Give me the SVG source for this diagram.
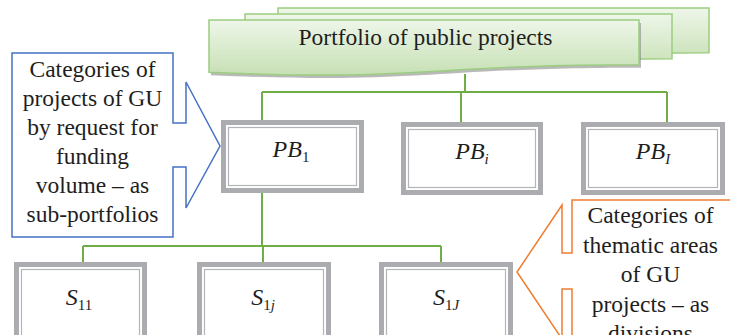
<svg xmlns="http://www.w3.org/2000/svg" width="730" height="335" viewBox="0 0 730 335">
<defs>
<linearGradient id="g" x1="0" y1="0" x2="0" y2="1">
<stop offset="0" stop-color="#eef6e9"/>
<stop offset="1" stop-color="#c6e0b4"/>
</linearGradient>
<style>
.sheet{fill:url(#g);stroke:#9ccd80;stroke-width:1.5}
.shadow{fill:#7f7f7f;opacity:0.55}
.bo{fill:#fff;stroke:#abacaf;stroke-width:5}
.bi{fill:none;stroke:#b3b4b7;stroke-width:1.2}
.conn{fill:none;stroke:#70ad47;stroke-width:2}
.t{font-family:'Liberation Serif',Tinos,'Times New Roman','DejaVu Serif',serif;fill:#1e1e1e;font-size:23.5px;text-anchor:middle}
.m{font-family:'Liberation Serif',Tinos,'Times New Roman','DejaVu Serif',serif;fill:#1e1e1e;font-size:24px;font-style:italic;text-anchor:middle}
.sub{font-size:15px}
.up{font-style:normal}
</style>
</defs>
<rect width="730" height="335" fill="#fff"/>

<g id="portfolio">
<path class="sheet" d="M278,8 H709 V52.7 C493.5,52.7 493.5,69.7 278,60.2 Z"/>
<path class="sheet" d="M245,14 H672 V58.7 C458.5,58.7 458.5,75.7 245,66.2 Z"/>
<path class="shadow" d="M211,23 H641 V67.7 C426,67.7 426,84.7 211,75.2 Z"/>
<path class="sheet" d="M209,20 H639 V64.7 C424,64.7 424,81.7 209,72.2 Z"/>
<text class="t" x="425.5" y="45">Portfolio of public projects</text>
</g>

<g id="connectors">
<path class="conn" d="M465,74 V92 M262,92 H667 M262,92 V120 M461,92 V122 M667,92 V122"/>
<path class="conn" d="M262,193 V246 M83,246 H441 M83,246 V262 M263,246 V262 M441,246 V262"/>
</g>

<g id="PB1">
<rect class="bo" x="223.5" y="122.5" width="138" height="68"/>
<rect class="bi" x="228.5" y="127.5" width="128" height="58"/>
<text class="m" x="291" y="157">PB<tspan class="sub up" dy="5">1</tspan></text>
</g>
<g id="PBi">
<rect class="bo" x="403.5" y="124.5" width="137" height="68"/>
<rect class="bi" x="408.5" y="129.5" width="127" height="58"/>
<text class="m" x="472" y="159">PB<tspan class="sub" dy="5">i</tspan></text>
</g>
<g id="PBI">
<rect class="bo" x="583.5" y="124.5" width="139" height="68"/>
<rect class="bi" x="588.5" y="129.5" width="129" height="58"/>
<text class="m" x="653" y="159">PB<tspan class="sub" dy="5">I</tspan></text>
</g>

<g id="S11">
<rect class="bo" x="16.5" y="264.5" width="128" height="80"/>
<rect class="bi" x="21.5" y="269.5" width="118" height="70"/>
<text class="m" x="79" y="305">S<tspan class="sub up" dy="5">11</tspan></text>
</g>
<g id="S1j">
<rect class="bo" x="199.5" y="264.5" width="129" height="80"/>
<rect class="bi" x="204.5" y="269.5" width="119" height="70"/>
<text class="m" x="263" y="305">S<tspan class="sub up" dy="5">1</tspan><tspan class="sub">j</tspan></text>
</g>
<g id="S1J">
<rect class="bo" x="381.5" y="264.5" width="129" height="80"/>
<rect class="bi" x="386.5" y="269.5" width="119" height="70"/>
<text class="m" x="446" y="305">S<tspan class="sub up" dy="5">1</tspan><tspan class="sub">J</tspan></text>
</g>

<g id="callout-left">
<path d="M12,53 H173 V123 H186 V82 L220,146 L186,208 V167 H173 V237 H12 Z" fill="#fff" stroke="#4472c4" stroke-width="1.5"/>
<text class="t" x="92.5" y="77">Categories of</text>
<text class="t" x="92.5" y="106">projects of GU</text>
<text class="t" x="92.5" y="135">by request for</text>
<text class="t" x="92.5" y="164">funding</text>
<text class="t" x="92.5" y="193">volume – as</text>
<text class="t" x="92.5" y="222">sub-portfolios</text>
</g>

<g id="callout-right">
<path d="M572,200 H732 V345 H572 V289 H562 V339 L517,272 L562,205 V253 H572 Z" fill="#fff" stroke="#ed7d31" stroke-width="1.5"/>
<text class="t" x="650.5" y="223">Categories of</text>
<text class="t" x="650.5" y="253">thematic areas</text>
<text class="t" x="650.5" y="282">of GU</text>
<text class="t" x="650.5" y="312">projects – as</text>
<text class="t" x="650.5" y="341">divisions</text>
</g>
</svg>
